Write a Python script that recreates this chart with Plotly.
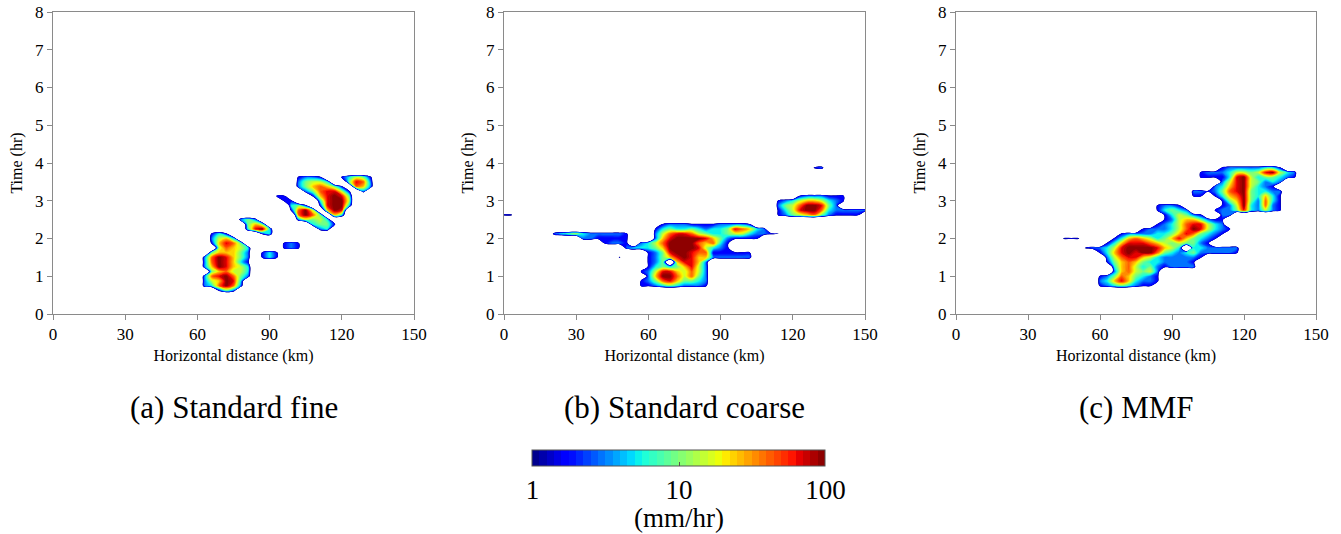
import numpy as np
import plotly.graph_objects as go

# ---------------- data (rain rate) ----------------
# Each row: (time [hr], first x [km], codes on a 3 km grid). '.' = no rain.
RATE = {'1': 1.6, '2': 3, '3': 5.5, '4': 9.5, '5': 15,
        '6': 25, '7': 42, '8': 68, '9': 100}            # mm/hr per code
NO_RAIN = 0.03                                          # well below 1 mm/hr
STEP_X = 3.0
STEP_T = 0.125

fine_x = np.arange(57, 135.1, STEP_X)
fine_t = np.arange(0.5, 3.876, STEP_T)
fine_rows = [
    (3.625, 102, "1221..13541"),
    (3.5, 102, "24553..4872"),
    (3.375, 102, "2467641.762"),
    (3.25, 105, "2478851.2"),
    (3.125, 93, "11...168984"),
    (3.0, 96, "11...38995"),
    (2.875, 99, "341.18993"),
    (2.75, 99, "1795.698"),
    (2.625, 102, "7974.63"),
    (2.5, 78, "242.....25453"),
    (2.375, 81, "464......3441"),
    (2.25, 81, "3893......23"),
    (2.125, 66, "131....13"),
    (2.0, 66, "2563"),
    (1.875, 66, "16874.....121"),
    (1.75, 69, "57653....121"),
    (1.625, 66, "466642.131"),
    (1.5, 63, "2798642.131"),
    (1.375, 63, "2798631"),
    (1.25, 63, "2698653"),
    (1.125, 66, "467553"),
    (1.0, 63, "2789742"),
    (0.875, 63, "256983"),
    (0.75, 63, "237972"),
    (0.625, 69, "142"),
]

coarse_x = np.arange(0, 150.1, STEP_X)
coarse_t = np.arange(0.5, 4.001, STEP_T)
coarse_rows = [
    (3.875, 129, "12"),
    (3.125, 123, "1222111"),
    (3.0, 114, "1235665321"),
    (2.875, 114, "245799842"),
    (2.75, 114, "1358997322222"),
    (2.625, 0, "11"),
    (2.625, 114, "124567421111"),
    (2.375, 66, "1222111122221"),
    (2.25, 63, "1343343233487632"),
    (2.125, 21, "23453222221"),
    (2.125, 63, "257887543345532211"),
    (2.0, 33, "2211111"),
    (2.0, 63, "268999986421111"),
    (1.875, 42, "1221"),
    (1.875, 57, "2357999976731"),
    (1.75, 51, "23"),
    (1.75, 57, "3346999985321"),
    (1.625, 60, "124899877111111"),
    (1.5, 48, "1"),
    (1.5, 60, "124689866222222"),
    (1.375, 60, "124.68862"),
    (1.25, 60, "134346852"),
    (1.125, 57, "1258865752"),
    (1.0, 60, "269975742"),
    (0.875, 57, "1247864432"),
    (0.75, 57, "1123432221"),
]

mmf_x = np.arange(42, 144.1, STEP_X)
mmf_t = np.arange(0.5, 4.126, STEP_T)
mmf_rows = [
    (3.875, 111, "122222331"),
    (3.75, 102, "12223554589532"),
    (3.625, 102, "11113895344321"),
    (3.5, 111, "258954232"),
    (3.375, 108, "236895321"),
    (3.25, 99, "2212478943322"),
    (3.125, 99, "11.1367943631"),
    (3.0, 111, "146942731"),
    (2.875, 84, "1221"),
    (2.875, 111, "125932721"),
    (2.75, 84, "13432"),
    (2.75, 108, "1224832521"),
    (2.625, 87, "135421"),
    (2.625, 111, "22"),
    (2.5, 87, "125664211"),
    (2.375, 84, "1235788532"),
    (2.25, 78, "1222357985321"),
    (2.125, 69, "122223346874321"),
    (2.0, 45, "111"),
    (2.0, 66, "136765346864321"),
    (1.875, 63, "136888765454421"),
    (1.75, 54, "12235899998653.3322222"),
    (1.625, 60, "13689899743234222221"),
    (1.5, 63, "25788653222221"),
    (1.375, 63, "1467643322221"),
    (1.25, 66, "367534212222"),
    (1.125, 66, "2675452"),
    (1.0, 60, "124764321"),
    (0.875, 60, "236863221"),
    (0.75, 60, "12343211"),
]

panel_titles = ["(a) Standard fine", "(b) Standard coarse", "(c) MMF"]
x_ticks = [0, 30, 60, 90, 120, 150]
y_ticks = [0, 1, 2, 3, 4, 5, 6, 7, 8]
cbar_tickvals = [0, 1, 2]
cbar_ticktext = ["1", "10", "100"]
cbar_unit = "(mm/hr)"


def build_field(xg, tg, rows):
    z = np.full((len(tg), len(xg)), np.log10(NO_RAIN))
    for t, x0, codes in rows:
        i = int(round((t - tg[0]) / STEP_T))
        j0 = int(round((x0 - xg[0]) / STEP_X))
        for k, ch in enumerate(codes):
            if ch != '.':
                z[i, j0 + k] = np.log10(RATE[ch])
    return z


# ---------------- jet colour map ----------------
def jet(p):
    r = np.interp(p, [0, 0.35, 0.66, 0.89, 1], [0, 0, 1, 1, 0.5])
    g = np.interp(p, [0, 0.125, 0.375, 0.64, 0.91, 1], [0, 0, 1, 1, 0, 0])
    b = np.interp(p, [0, 0.11, 0.34, 0.65, 1], [0.5, 1, 1, 0, 0])
    return "rgb(%d,%d,%d)" % (round(r * 255), round(g * 255), round(b * 255))


NLEV = 40
fill_scale = [[0.0, "white"]]
for k in range(1, NLEV + 1):
    fill_scale.append([k / NLEV, jet(0.025 * k - 0.0125)])

bar_scale = []
for k in range(NLEV):
    c = jet((k + 0.5) / NLEV)
    bar_scale.append([k / NLEV, c])
    bar_scale.append([(k + 1) / NLEV, c])

# ---------------- figure ----------------
W, H = 1341, 534
x_doms = [(53, 414), (504, 865), (956, 1316)]
y_dom = (1 - 314 / H, 1 - 12 / H)
SERIF = "Times New Roman"

fig = go.Figure()
panels = [(fine_x, fine_t, fine_rows), (coarse_x, coarse_t, coarse_rows),
          (mmf_x, mmf_t, mmf_rows)]
for n, (xg, tg, rows) in enumerate(panels):
    sfx = "" if n == 0 else str(n + 1)
    fig.add_trace(go.Contour(
        x=xg, y=tg, z=build_field(xg, tg, rows),
        xaxis="x" + sfx, yaxis="y" + sfx,
        autocontour=False,
        contours=dict(start=0, end=1.95, size=0.05, coloring="fill",
                      showlines=False),
        colorscale=fill_scale, showscale=False,
        line=dict(width=0, smoothing=1), hoverinfo="skip"))

# colour bar carrier
fig.add_trace(go.Scatter(
    x=[-100], y=[-100], mode="markers", xaxis="x", yaxis="y",
    showlegend=False, hoverinfo="skip",
    marker=dict(size=1, color=[1], cmin=0, cmax=2, colorscale=bar_scale,
                showscale=True,
                colorbar=dict(orientation="h", x=679 / W, xanchor="center",
                              y=1 - 440 / H, yanchor="top",
                              len=293, lenmode="pixels",
                              thickness=16, thicknessmode="pixels",
                              outlinecolor="#555", outlinewidth=1,
                              tickvals=cbar_tickvals, ticktext=cbar_ticktext,
                              ticks="inside", ticklen=4, tickcolor="#555",
                              tickfont=dict(family=SERIF, size=27, color="black"),
                              xpad=0, ypad=10))))

fig.update_layout(width=W, height=H,
                  margin=dict(l=0, r=0, t=0, b=0, pad=0, autoexpand=False),
                  paper_bgcolor="white", plot_bgcolor="white",
                  font_family=SERIF, font_color="black", showlegend=False)
axis_common = dict(showline=True, linecolor="#8a8a8a", linewidth=1, mirror=True,
                   ticks="outside", ticklen=5, tickcolor="#8a8a8a",
                   showgrid=False, zeroline=False,
                   tickfont=dict(family=SERIF, size=17, color="black"))
for n, (a, b) in enumerate(x_doms):
    sfx = "" if n == 0 else str(n + 1)
    fig.update_layout({
        "xaxis" + sfx: dict(
            axis_common, domain=[a / W, b / W], range=[0, 150],
            tickvals=x_ticks, anchor="y" + sfx, fixedrange=True,
            title=dict(text="Horizontal distance (km)", standoff=6,
                       font=dict(family=SERIF, size=16, color="black"))),
        "yaxis" + sfx: dict(
            axis_common, domain=list(y_dom), range=[0, 8],
            tickvals=y_ticks, anchor="x" + sfx, fixedrange=True,
            title=dict(text="Time (hr)", standoff=8,
                       font=dict(family=SERIF, size=16, color="black")))})
    fig.add_annotation(text=panel_titles[n], x=(a + b) / 2 / W,
                       y=1 - 407 / H, xref="paper", yref="paper",
                       xanchor="center", yanchor="middle", showarrow=False,
                       font=dict(family=SERIF, size=31, color="black"))

fig.add_annotation(text=cbar_unit, x=679 / W, y=1 - 518 / H,
                   xref="paper", yref="paper", xanchor="center",
                   yanchor="middle", showarrow=False,
                   font=dict(family=SERIF, size=27, color="black"))

fig.write_html("out.html")
